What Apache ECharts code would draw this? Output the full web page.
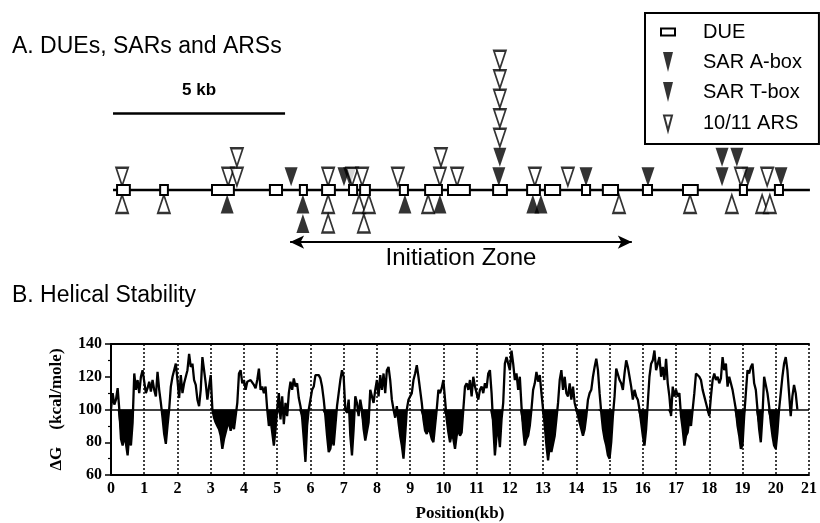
<!DOCTYPE html>
<html>
<head>
<meta charset="utf-8">
<script src="https://cdn.jsdelivr.net/npm/echarts@6/dist/echarts.min.js"></script>
<style>
  html, body { margin: 0; padding: 0; background: #fff; }
  #chart { width: 820px; height: 523px; }
</style>
</head>
<body>
<div id="chart"></div>
<script>
// ------------------------------------------------------------
// A: DUE / SAR / ARS 位置图（kb 坐标）   B: 螺旋稳定性 ΔG 曲线
// ------------------------------------------------------------
const SANS = '"Liberation Sans", Arial, Helvetica, sans-serif';
const SERIF = '"Liberation Serif", "Times New Roman", serif';

// 序列主线、比例尺、起始区 (kb)
const TRACK = [0.06, 20.76];
const SCALE_BAR = [0.06, 5.17];
const INIT_ZONE = [5.32, 15.47];

// DUE: [起点, 终点] kb
const DUE = [
  [0.18, 0.56], [1.46, 1.69], [3.00, 3.65], [4.72, 5.08], [5.61, 5.82],
  [6.27, 6.65], [7.07, 7.31], [7.40, 7.69], [8.58, 8.82], [9.33, 9.83],
  [10.01, 10.66], [11.35, 11.76], [12.36, 12.74], [12.89, 13.34], [13.99, 14.23],
  [14.61, 15.06], [15.80, 16.07], [16.99, 17.43], [18.68, 18.89], [19.72, 19.96],
];

// 三角标记：[kb, 层级]（线上方指向下，线下方指向上）
const ARS_ABOVE = [
  [0.33, 1], [3.48, 1], [3.74, 1], [3.74, 2], [6.45, 1], [7.16, 1], [7.46, 1],
  [8.52, 1], [9.77, 1], [9.80, 2], [10.28, 1],
  [11.55, 3], [11.55, 4], [11.55, 5], [11.55, 6], [11.55, 7],
  [12.59, 1], [13.57, 1], [18.71, 1], [19.49, 1],
];
const ARS_BELOW = [
  [0.33, 1], [1.57, 1], [6.45, 1], [6.45, 2], [7.37, 1], [7.66, 1], [7.51, 2],
  [9.42, 1], [15.09, 1], [17.20, 1], [18.44, 1], [19.34, 1], [19.57, 1],
];
const SAR_ABOVE = [
  [5.35, 1], [6.92, 1], [7.09, 1], [11.52, 1], [11.55, 2], [14.11, 1], [15.95, 1],
  [18.15, 1], [18.15, 2], [18.59, 2], [18.92, 1], [19.90, 1],
];
const SAR_BELOW = [
  [3.45, 1], [5.70, 1], [5.70, 2], [8.73, 1], [9.77, 1], [12.53, 1], [12.77, 1],
];

// ΔG (kcal/mole)，每 0.05 kb 一个读数，自 0 kb 起
const HELIX_STEP = 0.05;
const HELIX = [
  100,110,103,106,113,100,82,78,84,79,72,85,78,92,122,112,118,110,120,124,
  125,110,113,117,111,118,112,108,123,112,104,95,85,79,90,100,114,120,120,128,
  118,107,121,110,116,120,124,134,126,128,118,115,106,102,112,132,124,116,106,114,
  121,100,95,92,90,88,84,76,82,86,90,92,87,92,88,96,104,122,124,116,
  118,112,117,116,118,117,115,113,118,125,112,114,110,114,100,90,94,86,78,88,
  100,110,94,108,91,104,96,110,117,112,119,114,116,107,102,95,82,68,90,100,
  106,112,114,121,120,121,119,114,106,96,84,74,76,84,78,90,102,110,118,124,
  120,100,98,106,84,72,88,108,104,96,106,100,88,81,82,92,112,108,104,112,
  118,108,121,112,122,110,124,126,118,106,100,95,102,92,84,78,70,84,100,106,
  106,110,118,122,127,120,112,104,94,87,85,89,86,82,80,90,100,112,110,113,
  118,106,94,86,80,85,82,76,84,88,84,86,100,114,116,112,118,108,120,114,
  110,106,112,114,110,116,113,122,124,110,90,72,84,88,77,94,104,128,132,128,
  124,136,128,118,122,112,120,102,88,78,82,84,90,100,112,116,123,117,121,110,
  100,90,78,69,78,74,74,84,94,104,118,124,112,120,110,108,116,106,114,104,
  100,96,92,88,84,88,96,106,110,112,120,126,131,124,110,98,88,82,78,72,
  70,80,96,108,125,126,118,116,112,122,130,126,120,114,106,112,108,106,100,92,
  84,78,88,104,120,128,130,136,124,128,132,120,126,118,131,116,108,96,114,108,
  112,108,110,96,88,78,84,86,94,90,100,110,122,123,120,118,112,108,104,100,
  96,108,118,122,118,120,116,119,132,124,128,114,120,116,112,106,100,90,84,76,
  78,96,110,124,122,126,128,116,112,100,88,80,96,120,120,110,102,92,84,78,
  76,86,100,110,120,128,132,124,110,96,108,115,110,100,
];
const BASELINE = 100;

// 层级 -> 上图 y 值（1 单位 ≈ 一个三角的高度）
const aboveY = lv => lv - 0.32;
const belowY = lv => -(lv - 0.28);

const helixPts = HELIX.map((v, i) => [+(i * HELIX_STEP).toFixed(2), v]);
const fillPts = HELIX.map((v, i) => [+(i * HELIX_STEP).toFixed(2), Math.min(v, BASELINE)]);

const TXT = { fontFamily: SANS, color: "#000", fontWeight: "normal" };
const AX_TXT = { fontFamily: SERIF, color: "#000", fontWeight: "bold", fontSize: 16 };

const chart = echarts.init(document.getElementById("chart"));
chart.setOption({
  animation: false,
  backgroundColor: "#fff",
  title: [
    { text: "A. DUEs, SARs and ARSs", left: 12, top: 35, padding: 0, textStyle: Object.assign({ fontSize: 23 }, TXT) },
    { text: "B. Helical Stability", left: 12, top: 284, padding: 0, textStyle: Object.assign({ fontSize: 23 }, TXT) },
  ],
  legend: {
    orient: "vertical", left: 645, top: 13, padding: [9, 17, 10, 15],
    itemGap: 10, itemWidth: 14, itemHeight: 20, symbolRotate: 0,
    borderColor: "#000", borderWidth: 2, selectedMode: false,
    textStyle: Object.assign({ fontSize: 20, padding: [0, 0, 0, 23] }, TXT),
    data: [
      { name: "DUE", icon: "path://M0,0H14V7H0Z", itemStyle: { color: "#fff", borderColor: "#000", borderWidth: 2 } },
      { name: "SAR A-box", icon: "path://M0,0H10L5,20Z", itemStyle: { color: "#000", borderWidth: 0 } },
      { name: "SAR T-box", icon: "path://M0,0H10L5,20Z", itemStyle: { color: "#000", borderWidth: 0 } },
      { name: "10/11 ARS", icon: "path://M0,0H8L4,15Z M-1,-2.5 M9,17.5", itemStyle: { color: "#fff", borderColor: "#000", borderWidth: 2 } },
    ],
  },
  grid: [
    { left: 111, right: 2, top: 14.5, height: 273 },
    { left: 111, right: 2, top: 344, height: 134 },
  ],
  xAxis: [
    { gridIndex: 0, type: "value", min: 0, max: 21, show: false },
    {
      gridIndex: 1, type: "value", min: 0, max: 21, interval: 1,
      axisLine: { lineStyle: { color: "#000", width: 2 } },
      axisTick: { show: false },
      axisLabel: Object.assign({ margin: 6 }, AX_TXT),
      splitLine: { show: true, lineStyle: { color: "#000", width: 1.5, type: [2, 2] } },
      name: "Position(kb)", nameLocation: "middle", nameGap: 30,
      nameTextStyle: Object.assign({}, AX_TXT, { fontSize: 17 }),
    },
    {
      gridIndex: 1, type: "value", min: 0, max: 21, position: "top",
      axisLine: { show: true, lineStyle: { color: "#000", width: 2 } },
      axisTick: { show: false }, axisLabel: { show: false }, splitLine: { show: false },
    },
  ],
  yAxis: [
    { gridIndex: 0, type: "value", min: -5, max: 9, show: false },
    {
      gridIndex: 1, type: "value", min: 60, max: 140, interval: 20,
      axisLine: { show: true, lineStyle: { color: "#000", width: 2 } },
      axisTick: { show: true, length: 6, lineStyle: { color: "#000", width: 1.5 } },
      minorTick: { show: true, splitNumber: 2, length: 3, lineStyle: { color: "#000", width: 1.2 } },
      axisLabel: Object.assign({ margin: 9 }, AX_TXT),
      splitLine: { show: false },
      name: "ΔG    (kcal/mole)", nameLocation: "middle", nameGap: 46, nameRotate: 90,
      nameTextStyle: Object.assign({}, AX_TXT, { fontSize: 17 }),
    },
  ],
  series: [
    // 序列主线 + 比例尺 + 起始区箭头
    {
      type: "line", xAxisIndex: 0, yAxisIndex: 0, silent: true, z: 1,
      data: [[TRACK[0], 0], [TRACK[1], 0]], showSymbol: false, symbol: "none",
      lineStyle: { color: "#000", width: 2.5 },
      markLine: {
        silent: true, animation: false,
        data: [
          [
            { coord: [SCALE_BAR[0], 3.95], symbol: "none", lineStyle: { color: "#000", width: 2.5, type: "solid" },
              label: Object.assign({ show: true, formatter: "5 kb", position: "insideMiddleTop", distance: 14, fontSize: 17 }, TXT, { fontWeight: "bold" }) },
            { coord: [SCALE_BAR[1], 3.95], symbol: "none" },
          ],
          [
            { coord: [INIT_ZONE[0], -2.67], symbol: "arrow", symbolSize: [10, 14], lineStyle: { color: "#000", width: 2, type: "solid" },
              label: Object.assign({ show: true, formatter: "Initiation Zone", position: "insideMiddleBottom", distance: 4, fontSize: 24 }, TXT) },
            { coord: [INIT_ZONE[1], -2.67], symbol: "arrow", symbolSize: [10, 14] },
          ],
        ],
      },
    },
    {
      name: "SAR A-box", type: "scatter", xAxisIndex: 0, yAxisIndex: 0, z: 3, silent: true,
      data: SAR_ABOVE.map(d => [d[0], aboveY(d[1])]),
      symbol: "triangle", symbolRotate: 180, symbolSize: [13, 19], itemStyle: { color: "#000" },
    },
    {
      name: "SAR T-box", type: "scatter", xAxisIndex: 0, yAxisIndex: 0, z: 3, silent: true,
      data: SAR_BELOW.map(d => [d[0], belowY(d[1])]),
      symbol: "triangle", symbolRotate: 0, symbolSize: [13, 19], itemStyle: { color: "#000" },
    },
    {
      name: "10/11 ARS", type: "scatter", xAxisIndex: 0, yAxisIndex: 0, z: 4, silent: true,
      data: ARS_ABOVE.map(d => [d[0], aboveY(d[1])]),
      symbol: "triangle", symbolRotate: 180, symbolSize: [12, 18],
      itemStyle: { color: "#fff", borderColor: "#000", borderWidth: 2 },
    },
    {
      name: "10/11 ARS", type: "scatter", xAxisIndex: 0, yAxisIndex: 0, z: 4, silent: true,
      data: ARS_BELOW.map(d => [d[0], belowY(d[1])]),
      symbol: "triangle", symbolRotate: 0, symbolSize: [12, 18],
      itemStyle: { color: "#fff", borderColor: "#000", borderWidth: 2 },
    },
    {
      name: "DUE", type: "custom", xAxisIndex: 0, yAxisIndex: 0, z: 5, silent: true,
      data: DUE, encode: { x: [0, 1] },
      renderItem: (params, api) => {
        const s = api.coord([api.value(0), 0]);
        const e = api.coord([api.value(1), 0]);
        return {
          type: "rect",
          shape: { x: s[0], y: s[1] - 5, width: e[0] - s[0], height: 10 },
          style: { fill: "#fff", stroke: "#000", lineWidth: 2 },
        };
      },
    },
    // B：低于 100 的部分涂黑
    {
      type: "line", xAxisIndex: 1, yAxisIndex: 1, silent: true, z: 2,
      data: fillPts, showSymbol: false, symbol: "none",
      lineStyle: { width: 0 },
      areaStyle: { color: "#000", opacity: 1, origin: BASELINE },
    },
    {
      type: "line", xAxisIndex: 1, yAxisIndex: 1, silent: true, z: 3,
      data: helixPts, showSymbol: false, symbol: "none",
      lineStyle: { color: "#000", width: 2.3 },
      markLine: {
        silent: true, symbol: "none", animation: false,
        label: { show: false },
        lineStyle: { color: "#000", width: 1.5, type: "solid" },
        data: [{ yAxis: BASELINE }],
      },
    },
  ],
});
</script>
</body>
</html>
